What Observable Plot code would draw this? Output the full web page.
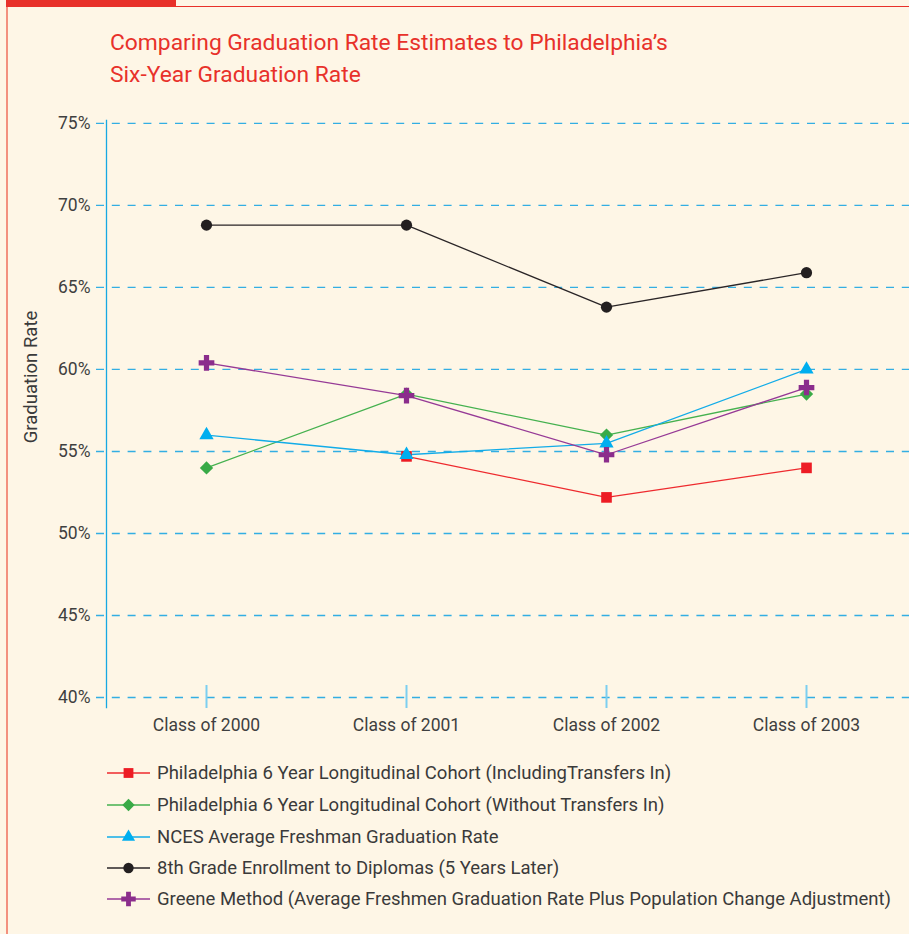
<!DOCTYPE html>
<html>
<head>
<meta charset="utf-8">
<script src="https://cdn.jsdelivr.net/npm/d3@7"></script>
<script src="https://cdn.jsdelivr.net/npm/@observablehq/plot@0.6"></script>
<style>
  html, body { margin: 0; padding: 0; background: #FEF6E6; }
  #wrap { position: relative; width: 909px; height: 934px; overflow: hidden; background: #FEF6E6; font-family: Roboto, "Noto Sans", sans-serif; }
  .abs { position: absolute; }
  #title { left: 110px; top: 27px; color: #E8312A; font-size: 22.8px; line-height: 32px; }
  #chart { left: 0; top: 100px; }
  .lrow { position: absolute; left: 107px; height: 22px; display: flex; align-items: center; }
  .lrow svg { width: 46px; height: 22px; flex: none; }
  .lrow span { margin-left: 4px; font-size: 18.5px; color: #3a3a3a; white-space: nowrap; }
</style>
</head>
<body>
<div id="wrap">
  <div class="abs" style="left:6px;top:0;width:2px;height:934px;background:#F3917F"></div>
  <div class="abs" style="left:6px;top:0;width:170px;height:7px;background:#E8312A"></div>
  <div class="abs" style="left:176px;top:6px;width:733px;height:1px;background:#E8312A"></div>
  <div id="title" class="abs">Comparing Graduation Rate Estimates to Philadelphia’s<br>Six-Year Graduation Rate</div>
  <div id="chart" class="abs"></div>
  <div id="legend"></div>
</div>
<script>
// ---- data ----
const categories = ["Class of 2000", "Class of 2001", "Class of 2002", "Class of 2003"];
const seriesNames = [
  "Philadelphia 6 Year Longitudinal Cohort (IncludingTransfers In)",
  "Philadelphia 6 Year Longitudinal Cohort (Without Transfers In)",
  "NCES Average Freshman Graduation Rate",
  "8th Grade Enrollment to Diplomas (5 Years Later)",
  "Greene Method (Average Freshmen Graduation Rate Plus Population Change Adjustment)"
];
const cohortIncluding = [null, 54.7, 52.2, 54.0];
const cohortWithout   = [54.0, 58.5, 56.0, 58.5];
const ncesAfgr        = [56.0, 54.8, 55.5, 60.0];
const eighthGrade     = [68.8, 68.8, 63.8, 65.9];
const greeneMethod    = [60.4, 58.4, 54.8, 58.9];
const yTicks = [40, 45, 50, 55, 60, 65, 70, 75];
const yLabel = "Graduation Rate";

// ---- styles ----
const seriesValues = [cohortIncluding, cohortWithout, ncesAfgr, eighthGrade, greeneMethod];
const styles = [
  {line: "#EE2A2E", fill: "#ED1C24", symbol: "square", r: 6},
  {line: "#45B14F", fill: "#39AA47", symbol: "diamond2", r: 6},
  {line: "#12ACE8", fill: "#00AEEF", symbol: "triangle", r: 5.3},
  {line: "#2A2527", fill: "#231F20", symbol: "circle", r: 5.6},
  {line: "#963A96", fill: "#8B2D8C", symbol: "cross", r: 6.6}
];

const table = [];
seriesNames.forEach((s, i) => categories.forEach((c, j) => {
  table.push({series: s, idx: i, category: c, value: seriesValues[i][j]});
}));

const FONT = 'Roboto, "Noto Sans", sans-serif';
const marks = [
  Plot.ruleY(yTicks, {stroke: "#33AEE3", strokeWidth: 1.3, strokeDasharray: "8,7.8", insetLeft: -10, insetRight: -3}),
  Plot.ruleX(categories, {y1: 39.33, y2: 40.73, stroke: "#7CCFF0", strokeWidth: 2}),
  Plot.frame({anchor: "left", stroke: "#17A8E2", strokeWidth: 1.3}),
  Plot.axisY(yTicks, {tickSize: 0, tickPadding: 16, tickFormat: d => d + "%", label: null, fontSize: 17.5}),
  Plot.axisX({tickSize: 0, tickPadding: 11, label: null, fontSize: 17.5}),
  Plot.text([yLabel], {frameAnchor: "left", textAnchor: "middle", rotate: -90, dx: -75, dy: -37, fontSize: 18.5, fill: "#3a3a3a"})
];
styles.forEach((st, i) => {
  const rows = table.filter(d => d.idx === i);
  marks.push(Plot.line(rows, {x: "category", y: "value", stroke: st.line, strokeWidth: 1.3}));
});
styles.forEach((st, i) => {
  const rows = table.filter(d => d.idx === i && d.value != null);
  marks.push(Plot.dot(rows, {x: "category", y: "value", symbol: () => st.symbol, fill: st.fill, stroke: "none", r: st.r}));
});

const chart = Plot.plot({
  width: 909,
  height: 650,
  marginLeft: 106,
  marginRight: 3,
  marginTop: 20,
  marginBottom: 43,
  style: {fontFamily: FONT, fontSize: "17.5px", color: "#3f3f3f", background: "transparent", overflow: "visible"},
  x: {type: "point", domain: categories, padding: 0.5, round: false},
  y: {domain: [39.39, 75.18]},
  symbol: {type: "identity"},
  marks
});
document.getElementById("chart").appendChild(chart);

// ---- legend ----
const legend = d3.select("#legend");
const rowCenters = [773, 805, 837, 868, 899];
const symMap = {square: d3.symbolSquare, diamond2: d3.symbolDiamond2, triangle: d3.symbolTriangle, circle: d3.symbolCircle, cross: d3.symbolCross};
seriesNames.forEach((s, i) => {
  const st = styles[i];
  const row = legend.append("div").attr("class", "lrow").style("top", (rowCenters[i] - 11) + "px");
  const svg = row.append("svg");
  svg.append("line").attr("x1", 0).attr("x2", 43).attr("y1", 11).attr("y2", 11)
    .attr("stroke", st.line).attr("stroke-width", 1.3);
  svg.append("path").attr("transform", "translate(21.5,11)")
    .attr("d", d3.symbol(symMap[st.symbol], Math.PI * st.r * st.r * 0.85)())
    .attr("fill", st.fill);
  row.append("span").text(s);
});
</script>
</body>
</html>
